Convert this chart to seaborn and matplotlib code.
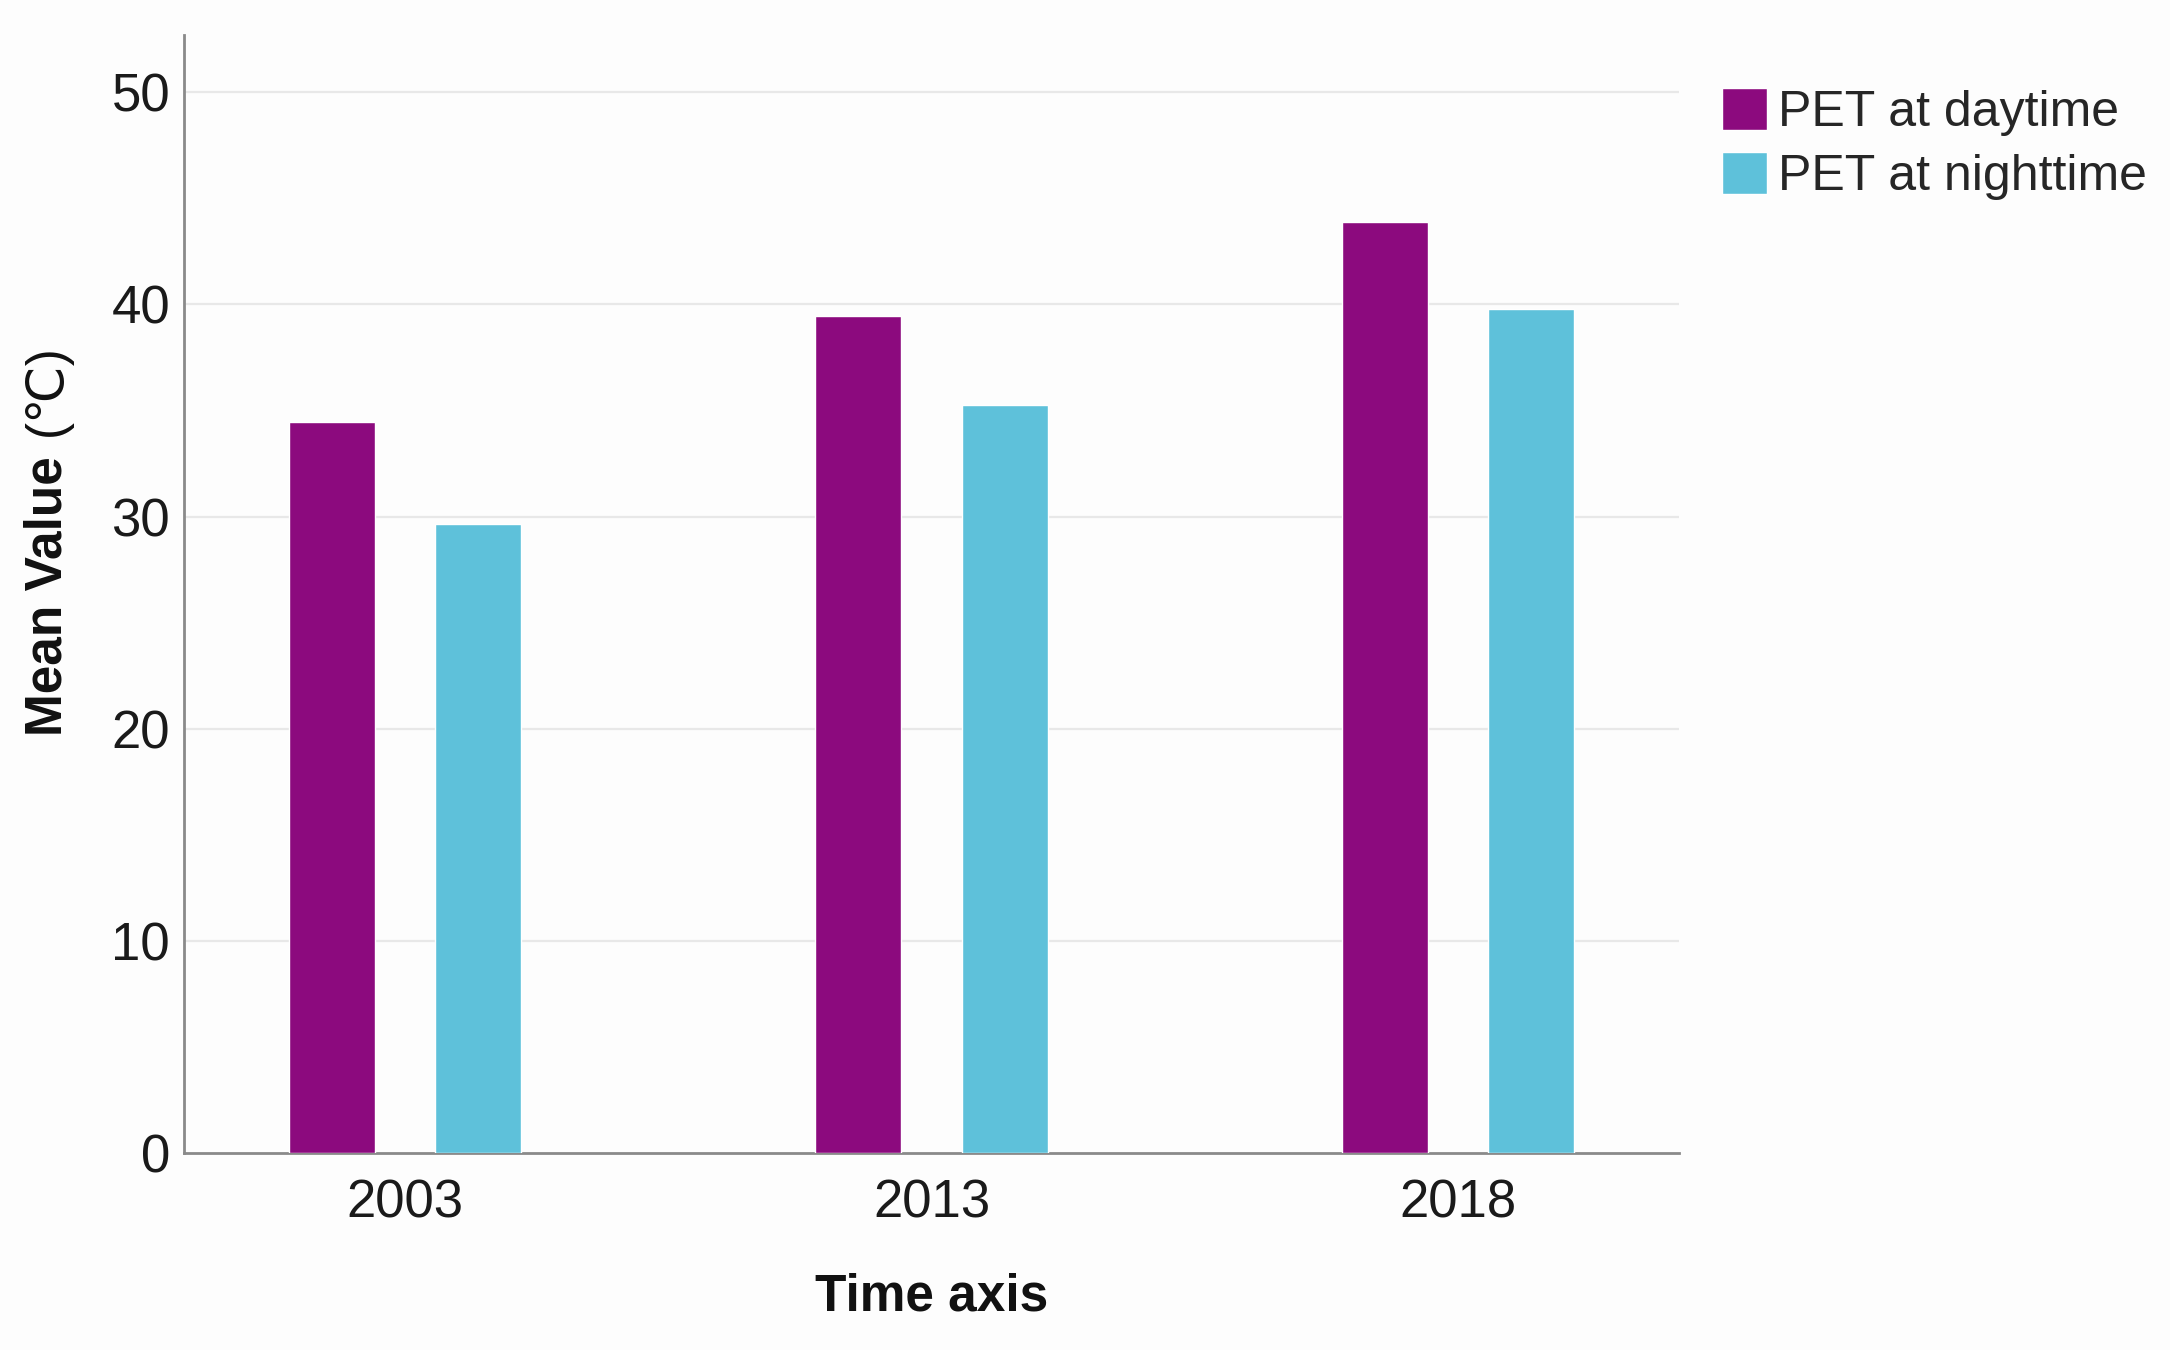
import matplotlib
matplotlib.use("Agg")
import matplotlib.pyplot as plt
import seaborn as sns
import pandas as pd

# ---- data ----
years = ["2003", "2013", "2018"]
series_names = ["PET at daytime", "PET at nighttime"]
pet_day = [34.45, 39.45, 43.9]
pet_night = [29.65, 35.25, 39.8]
y_ticks = [0, 10, 20, 30, 40, 50]

colors = ["#8C0A7E", "#5EC1DA"]
bg = "#fdfdfd"

df = pd.DataFrame({
    "year": years * 2,
    "series": [series_names[0]] * 3 + [series_names[1]] * 3,
    "value": pet_day + pet_night,
})

sns.set_theme(style="white")
plt.rcParams["font.family"] = ["Liberation Sans", "DejaVu Sans"]

fig = plt.figure(figsize=(21.7, 13.5), dpi=100, facecolor=bg)
ax = fig.add_axes([184 / 2170, 1 - 1153 / 1350, (1679 - 184) / 2170, (1153 - 35) / 1350])
ax.set_facecolor(bg)

sns.barplot(data=df, x="year", y="value", hue="series", order=years,
            hue_order=series_names, palette=colors, width=0.556, gap=0.41,
            saturation=1, errorbar=None, ax=ax, zorder=3)

ax.set_xlim(-0.42, 2.42)
ax.set_ylim(0, 52.7)
ax.set_yticks(y_ticks)
ax.yaxis.grid(True, color="#e8e8e8", linewidth=1.6, zorder=0)
ax.set_axisbelow(True)
for g in ax.get_ygridlines()[:1]:
    g.set_visible(False)

for s in ["top", "right"]:
    ax.spines[s].set_visible(False)
for s in ["left", "bottom"]:
    ax.spines[s].set_color("#8a8a8a")
    ax.spines[s].set_linewidth(2)

ax.tick_params(axis="y", length=0, pad=10, labelsize=38, labelcolor="#1a1a1a")
ax.tick_params(axis="x", length=0, pad=18, labelsize=38, labelcolor="#1a1a1a")

ax.set_ylabel("")
ax.set_xlabel("Time axis", fontsize=37, fontweight="bold", color="#111111", va="center")
ax.xaxis.set_label_coords(0.5, (1153 - 1297) / (1153 - 35))

t1 = fig.text(61 / 2170, 1 - 736 / 1350, "Mean Value", rotation=90, rotation_mode="anchor",
              ha="left", va="baseline", fontsize=37, fontweight="bold", color="#111111")
fig.canvas.draw()
bb = t1.get_window_extent(renderer=fig.canvas.get_renderer())
top_frac = (bb.y1 + 20) / fig.bbox.height
fig.text(61 / 2170, top_frac, "(\u2103)", rotation=90, rotation_mode="anchor",
         ha="left", va="baseline", fontsize=37, color="#111111")

handles, labels = ax.get_legend_handles_labels()
ax.get_legend().remove()
fig.legend(handles, labels, loc="upper left", bbox_to_anchor=(1722 / 2170, 1 - 88 / 1350),
           frameon=False, fontsize=36, handlelength=0.9, handleheight=0.9,
           handletextpad=0.22, labelspacing=0.32, borderpad=0, borderaxespad=0)

fig.savefig("out.png", dpi=100, facecolor=bg)
